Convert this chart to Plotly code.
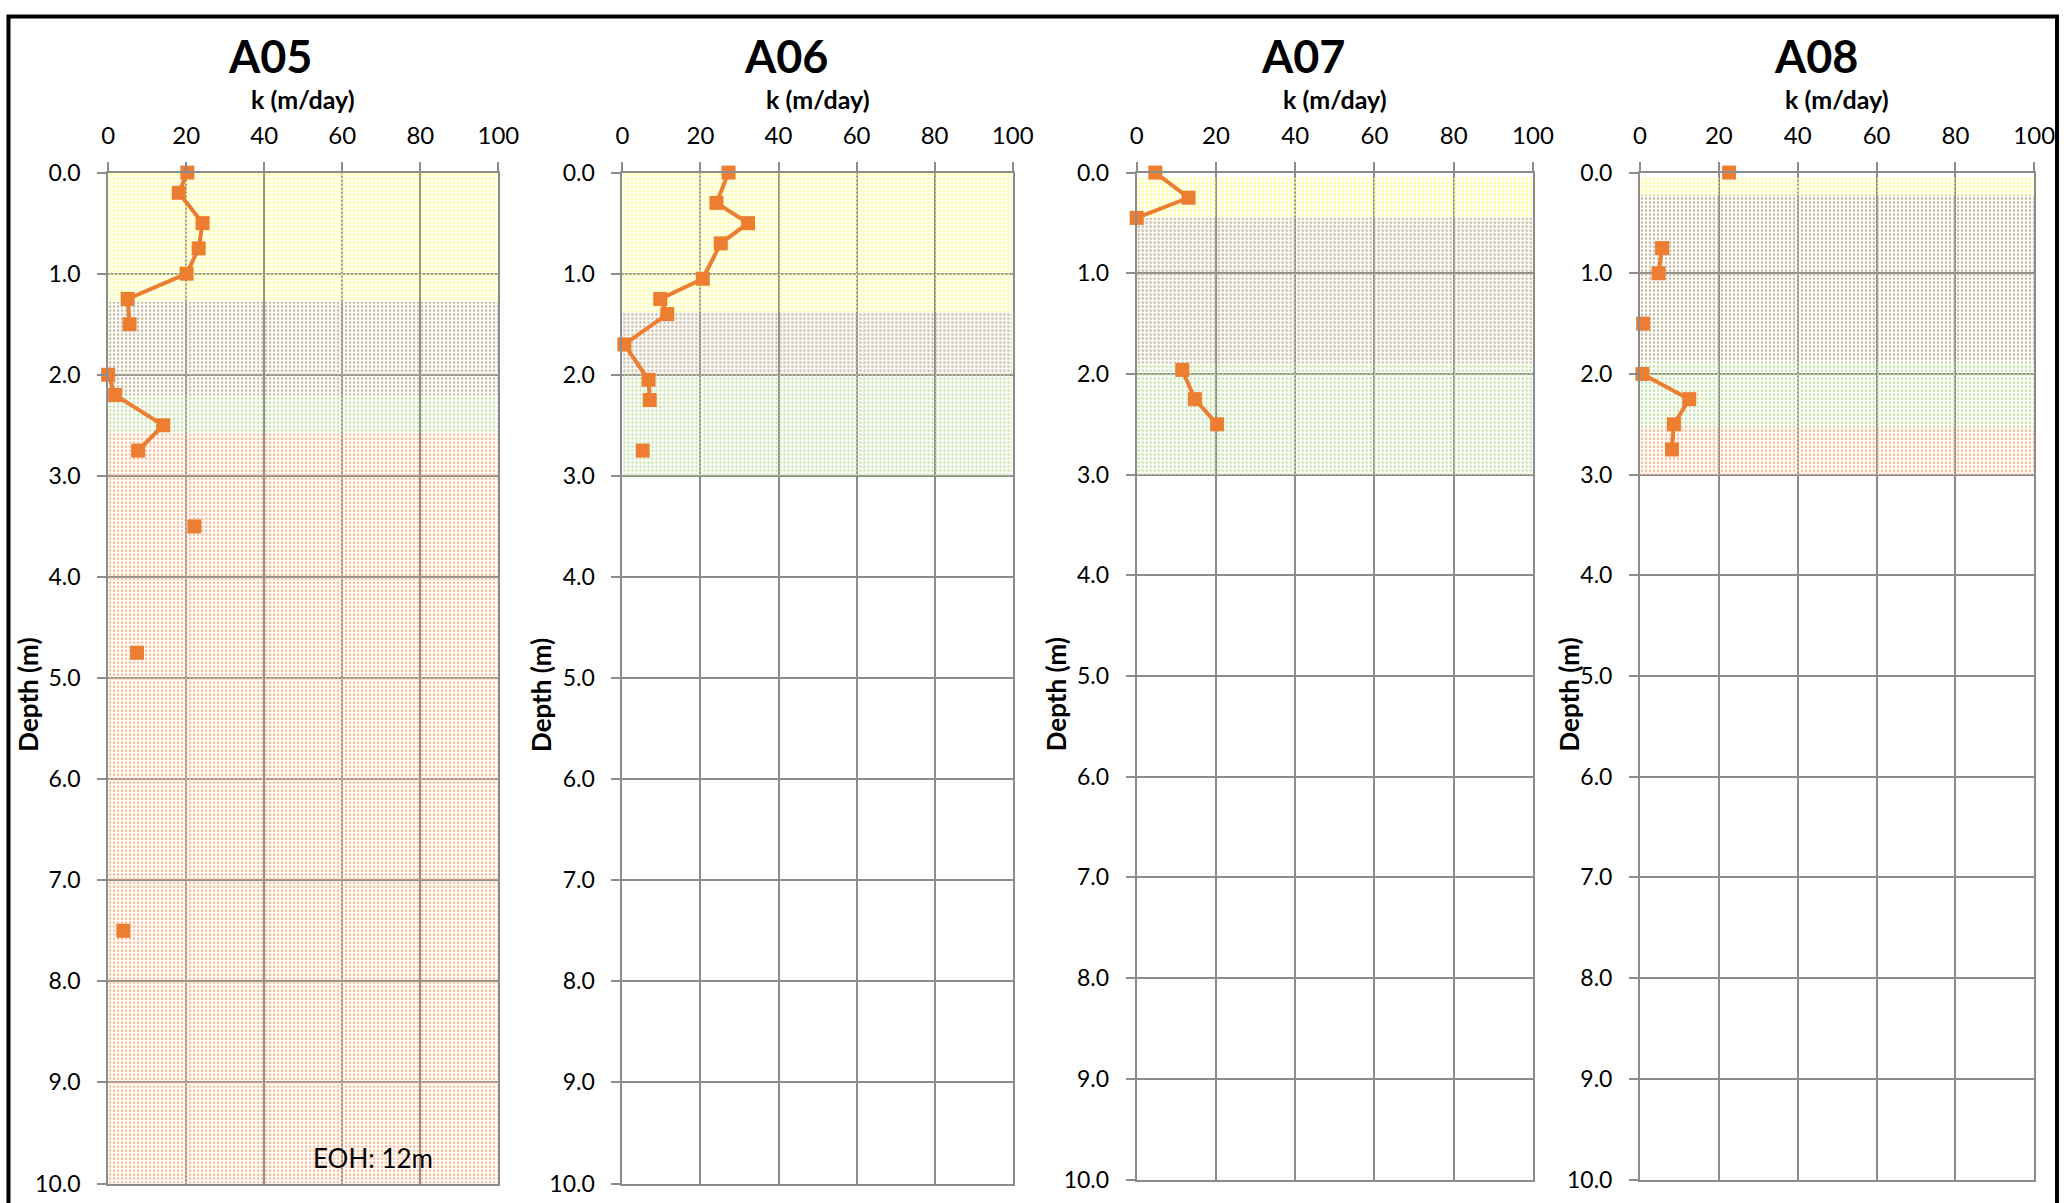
import plotly.graph_objects as go

# ---------------------------------------------------------------
# Hydraulic conductivity profiles, boreholes A05 - A08
# ---------------------------------------------------------------
bores = ["A05", "A06", "A07", "A08"]

# depth (m) and hydraulic conductivity k (m/day); None = no test result
A05_depth = [0.0, 0.2, 0.5, 0.75, 1.0, 1.25, 1.5, 1.75, 2.0, 2.2, 2.5, 2.75, 3.0, 3.5, 4.0, 4.75, 5.0, 7.5]
A05_k = [20.3, 18.1, 24.2, 23.2, 20.1, 5.0, 5.5, None, 0.0, 1.8, 14.1, 7.7, None, 22.1, None, 7.4, None, 3.9]

A06_depth = [0.0, 0.3, 0.5, 0.7, 1.05, 1.25, 1.4, 1.7, 2.05, 2.25, 2.5, 2.75]
A06_k = [27.2, 24.1, 32.2, 25.2, 20.6, 9.7, 11.5, 0.5, 6.7, 7.0, None, 5.2]

A07_depth = [0.0, 0.25, 0.45, 1.0, 1.96, 2.25, 2.5]
A07_k = [4.7, 13.1, 0.0, None, 11.5, 14.7, 20.3]

A08_depth = [0.0, 0.5, 0.75, 1.0, 1.25, 1.5, 1.75, 2.0, 2.25, 2.5, 2.75]
A08_k = [22.6, None, 5.6, 4.7, None, 0.8, None, 0.6, 12.5, 8.6, 8.1]

# logged soil units: top / bottom depth (m) and unit name
A05_layer_top = [0.0, 1.28, 2.2, 2.58]
A05_layer_bottom = [1.28, 2.2, 2.58, 10.0]
A05_layer_unit = ["topsoil", "clay", "sand", "gravel"]

A06_layer_top = [0.0, 1.37, 2.0]
A06_layer_bottom = [1.37, 2.0, 3.0]
A06_layer_unit = ["topsoil", "clay", "sand"]

A07_layer_top = [0.05, 0.45, 1.89]
A07_layer_bottom = [0.45, 1.89, 3.0]
A07_layer_unit = ["topsoil", "clay", "sand"]

A08_layer_top = [0.05, 0.22, 1.88, 2.52]
A08_layer_bottom = [0.22, 1.88, 2.52, 3.0]
A08_layer_unit = ["topsoil", "clay", "sand", "gravel"]

x_ticks = [0, 20, 40, 60, 80, 100]
depth_ticks = [0, 1, 2, 3, 4, 5, 6, 7, 8, 9, 10]
note_text = "EOH: 12m"

data = {
    "A05": (A05_depth, A05_k, A05_layer_top, A05_layer_bottom, A05_layer_unit),
    "A06": (A06_depth, A06_k, A06_layer_top, A06_layer_bottom, A06_layer_unit),
    "A07": (A07_depth, A07_k, A07_layer_top, A07_layer_bottom, A07_layer_unit),
    "A08": (A08_depth, A08_k, A08_layer_top, A08_layer_bottom, A08_layer_unit),
}

# ---------------------------------------------------------------
# styling
# ---------------------------------------------------------------
W, H = 2080, 1214
FONT = "Lato"
ORANGE = "#ED7D31"
GRID = "#8c8c8c"
unit_dot_colour = {
    "topsoil": "#ffff80",
    "clay": "#c2b294",
    "sand": "#bfe09c",
    "gravel": "#f8b48c",
}

# plot-area boxes in figure pixels: (left, right, top, bottom)
boxes = {
    "A05": (102.5, 498.1, 161.3, 1196.1),
    "A06": (623.8, 1019.4, 161.3, 1196.1),
    "A07": (1145.1, 1546.8, 161.3, 1192.0),
    "A08": (1655.3, 2054.9, 161.3, 1192.0),
}
title_x = {"A05": 266.8, "A06": 789.2, "A07": 1313.5, "A08": 1833.8}
ylabel_x = {"A05": 20.4, "A06": 540.7, "A07": 1063.0, "A08": 1583.3}
TITLE_Y, KLABEL_Y, YLABEL_Y = 41.5, 85.6, 695.6
NOTE_X, NOTE_Y = 371.3, 1169.5


def px(x):
    return x / W


def py(y):
    return 1 - y / H


fig = go.Figure()
annotations = []
layout_axes = {}

for i, name in enumerate(bores):
    depth, k, ltop, lbot, lunit = data[name]
    sfx = "" if i == 0 else str(i + 1)
    xa, ya = "x" + sfx, "y" + sfx

    # soil unit bands (dotted fill)
    for t, b, u in zip(ltop, lbot, lunit):
        fig.add_trace(go.Bar(
            orientation="h",
            y=[(t + b) / 2], x=[100], base=[0], width=[b - t],
            marker=dict(
                color=unit_dot_colour[u],
                line=dict(width=0),
                pattern=dict(shape=".", fillmode="replace", size=4,
                             solidity=0.3, bgcolor="rgba(0,0,0,0)"),
            ),
            xaxis=xa, yaxis=ya, showlegend=False, hoverinfo="skip",
        ))

    # k profile
    fig.add_trace(go.Scatter(
        x=k, y=depth, mode="lines+markers", connectgaps=False,
        line=dict(color=ORANGE, width=4),
        marker=dict(symbol="square", size=14, color=ORANGE),
        cliponaxis=False, xaxis=xa, yaxis=ya, showlegend=False,
    ))

    l, r, t, b = boxes[name]
    layout_axes["xaxis" + sfx] = dict(
        domain=[px(l), px(r)], anchor=ya, side="top", range=[0, 100],
        tickvals=x_ticks, ticks="outside", ticklen=9, tickwidth=1.5,
        tickcolor=GRID, showgrid=True, gridcolor=GRID, gridwidth=1.5,
        showline=True, linecolor=GRID, linewidth=2, mirror=True,
        zeroline=False, ticklabelstandoff=8,
        tickfont=dict(family=FONT, size=24, color="#000"),
        layer="above traces",
    )
    layout_axes["yaxis" + sfx] = dict(
        domain=[py(b), py(t)], anchor=xa, range=[10, 0],
        tickvals=depth_ticks, tickformat=".1f", ticks="outside", ticklen=9,
        tickwidth=1.5, tickcolor=GRID, showgrid=True, gridcolor=GRID,
        gridwidth=1.5, showline=True, linecolor=GRID, linewidth=2,
        mirror=True, zeroline=False, ticklabelstandoff=12,
        tickfont=dict(family=FONT, size=23, color="#000"),
        layer="above traces",
    )

    annotations.append(dict(
        text="<b>%s</b>" % name, x=px(title_x[name]), y=py(TITLE_Y),
        xref="paper", yref="paper", xanchor="center", yanchor="middle",
        showarrow=False, font=dict(family=FONT, size=45, color="#000"),
    ))
    annotations.append(dict(
        text="<b>k (m/day)</b>", x=px((l + r) / 2), y=py(KLABEL_Y),
        xref="paper", yref="paper", xanchor="center", yanchor="middle",
        showarrow=False, font=dict(family=FONT, size=25, color="#000"),
    ))
    annotations.append(dict(
        text="<b>Depth (m)</b>", x=px(ylabel_x[name]), y=py(YLABEL_Y),
        xref="paper", yref="paper", xanchor="center", yanchor="middle",
        textangle=-90, showarrow=False,
        font=dict(family=FONT, size=26, color="#000"),
    ))

annotations.append(dict(
    text=note_text, x=px(NOTE_X), y=py(NOTE_Y), xref="paper", yref="paper",
    xanchor="center", yanchor="middle", showarrow=False,
    font=dict(family=FONT, size=26, color="#000"),
))

fig.update_layout(
    width=W, height=H, autosize=False,
    margin=dict(l=0, r=0, t=0, b=0, pad=0),
    paper_bgcolor="white", plot_bgcolor="rgba(0,0,0,0)",
    barmode="overlay", bargap=0,
    annotations=annotations,
    shapes=[dict(
        type="rect", xref="paper", yref="paper",
        x0=px(1.5), x1=px(2078), y0=-0.05, y1=py(1.5),
        line=dict(color="#000", width=4), fillcolor="rgba(0,0,0,0)",
        layer="above",
    )],
    **layout_axes,
)

fig.write_html("out.html")
